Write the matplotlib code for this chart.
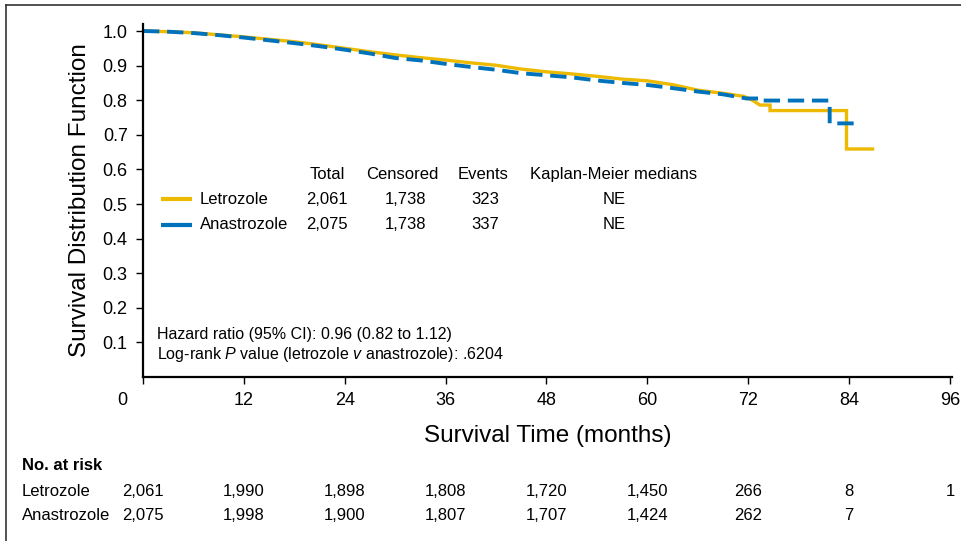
import matplotlib
matplotlib.use("Agg")
import matplotlib.pyplot as plt
from matplotlib.lines import Line2D
from matplotlib.transforms import ScaledTranslation, blended_transform_factory

plt.rcParams["font.family"] = ["Liberation Sans", "DejaVu Sans"]
plt.rcParams["mathtext.fontset"] = "custom"
plt.rcParams["mathtext.rm"] = "Liberation Sans"
plt.rcParams["mathtext.it"] = "Liberation Sans:italic"

# ---------------------------------------------------------------------------
# Data
# ---------------------------------------------------------------------------
let_t = [0, 3, 6, 9, 12, 15, 18, 21, 24, 27, 30, 33, 36, 39, 42, 45, 48, 51,
         54, 57, 60, 63, 66, 69, 71.5, 72.5, 73.4, 74.6, 74.6, 83.7, 83.7, 86.8]
let_s = [1.000, 0.998, 0.995, 0.989, 0.983, 0.976, 0.969, 0.960, 0.950, 0.940,
         0.931, 0.923, 0.916, 0.908, 0.901, 0.890, 0.882, 0.876, 0.869, 0.861,
         0.856, 0.845, 0.829, 0.820, 0.811, 0.800, 0.786, 0.786, 0.770, 0.770,
         0.659, 0.659]

ana_t = [0, 3, 6, 9, 12, 15, 18, 21, 24, 27, 30, 33, 36, 39, 42, 45, 48, 51,
         54, 57, 60, 63, 66, 69, 71.8, 73.4, 73.4, 81.7, 81.7, 85.1]
ana_s = [1.000, 0.998, 0.994, 0.988, 0.981, 0.973, 0.965, 0.956, 0.946, 0.935,
         0.922, 0.915, 0.905, 0.896, 0.888, 0.878, 0.872, 0.866, 0.857, 0.850,
         0.844, 0.835, 0.825, 0.817, 0.805, 0.805, 0.799, 0.799, 0.733, 0.733]

groups = ["Letrozole", "Anastrozole"]
totals = ["2,061", "2,075"]
censored = ["1,738", "1,738"]
events = ["323", "337"]
medians = ["NE", "NE"]

risk_months = [0, 12, 24, 36, 48, 60, 72, 84, 96]
let_risk = ["2,061", "1,990", "1,898", "1,808", "1,720", "1,450", "266", "8", "1"]
ana_risk = ["2,075", "1,998", "1,900", "1,807", "1,707", "1,424", "262", "7", ""]

YELLOW = "#EDBA00"
BLUE = "#0072BC"

W, H = 961, 541


def fx(x):
    return x / W


def fy(y):
    return 1 - y / H


fig = plt.figure(figsize=(9.61, 5.41), dpi=100)
ax = fig.add_axes([fx(143), fy(377), 8.405 * 96.3 / W, 1.02 * 346 / H])

ax.plot(let_t, let_s, color=YELLOW, lw=2.4, solid_joinstyle="miter")
ax.plot(ana_t, ana_s, color=BLUE, lw=2.8, dashes=(4.2, 2.0),
        dash_capstyle="butt")

ax.set_xlim(0, 96.3)
ax.set_ylim(0, 1.02)
ax.set_xticks(risk_months)
ax.set_xticklabels([str(m) for m in risk_months])
ax.set_yticks([0.1, 0.2, 0.3, 0.4, 0.5, 0.6, 0.7, 0.8, 0.9, 1.0])
ax.set_yticklabels([f"{v:.1f}" for v in ax.get_yticks()])
for s in ["top", "right"]:
    ax.spines[s].set_visible(False)
for s in ["left", "bottom"]:
    ax.spines[s].set_linewidth(1.6)
ax.tick_params(axis="both", direction="out", length=5, width=1.0,
               labelsize=13, colors="black")
ax.tick_params(axis="y", pad=6)
ax.tick_params(axis="x", pad=6)

# the "0" label sits left of the y axis in the original
lab0 = ax.get_xticklabels()[0]
lab0.set_transform(lab0.get_transform() +
                   ScaledTranslation(-21 / 100, 0, fig.dpi_scale_trans))

ax.set_xlabel("Survival Time (months)", fontsize=17.5)
ax.xaxis.set_label_coords(0.5, (377 - 436) / 352.9)
ax.xaxis.label.set_va("center")
ax.set_ylabel("Survival Distribution Function", fontsize=17.5)
ax.yaxis.set_label_coords((80 - 143) / 809.4, 0.5)
ax.yaxis.label.set_va("center")

# inline legend / summary table
fs = 12
fig.text(fx(327), fy(174), "Total", ha="center", va="center", fontsize=fs)
fig.text(fx(402), fy(174), "Censored", ha="center", va="center", fontsize=fs)
fig.text(fx(483), fy(174), "Events", ha="center", va="center", fontsize=fs)
fig.text(fx(614), fy(174), "Kaplan-Meier medians", ha="center", va="center",
         fontsize=fs)
row_y = [199, 225]
colors = [YELLOW, BLUE]
for i, g in enumerate(groups):
    y = row_y[i]
    fig.add_artist(Line2D([fx(161), fx(192)], [fy(y), fy(y)], color=colors[i],
                          lw=3, solid_capstyle="butt"))
    fig.text(fx(200), fy(y), g, ha="left", va="center", fontsize=fs)
    fig.text(fx(327), fy(y), totals[i], ha="center", va="center", fontsize=fs)
    fig.text(fx(405), fy(y), censored[i], ha="center", va="center", fontsize=fs)
    fig.text(fx(485), fy(y), events[i], ha="center", va="center", fontsize=fs)
    fig.text(fx(614), fy(y), medians[i], ha="center", va="center", fontsize=fs)

fig.text(fx(157), fy(335), "Hazard ratio (95% CI): 0.96 (0.82 to 1.12)",
         ha="left", va="center", fontsize=11.5)
fig.text(fx(157), fy(354),
         r"Log-rank $\mathit{P}$ value (letrozole $\mathit{v}$ anastrozole): .6204",
         ha="left", va="center", fontsize=11.5)

# number at risk table
trans = blended_transform_factory(ax.transData, fig.transFigure)
fig.text(fx(22), fy(466), "No. at risk", ha="left", va="center",
         fontsize=12, fontweight="bold")
for y, name, vals in [(492, groups[0], let_risk), (516, groups[1], ana_risk)]:
    fig.text(fx(22), fy(y), name, ha="left", va="center", fontsize=12)
    for m, v in zip(risk_months, vals):
        ax.text(m, fy(y), v, transform=trans, ha="center", va="center",
                fontsize=12, clip_on=False)

# outer frame (top and left edges visible)
fig.add_artist(Line2D([fx(6), 1], [fy(5), fy(5)], color="#333333", lw=1.2))
fig.add_artist(Line2D([fx(6), fx(6)], [0, fy(5)], color="#333333", lw=1.2))

fig.savefig("out.png", dpi=100)
